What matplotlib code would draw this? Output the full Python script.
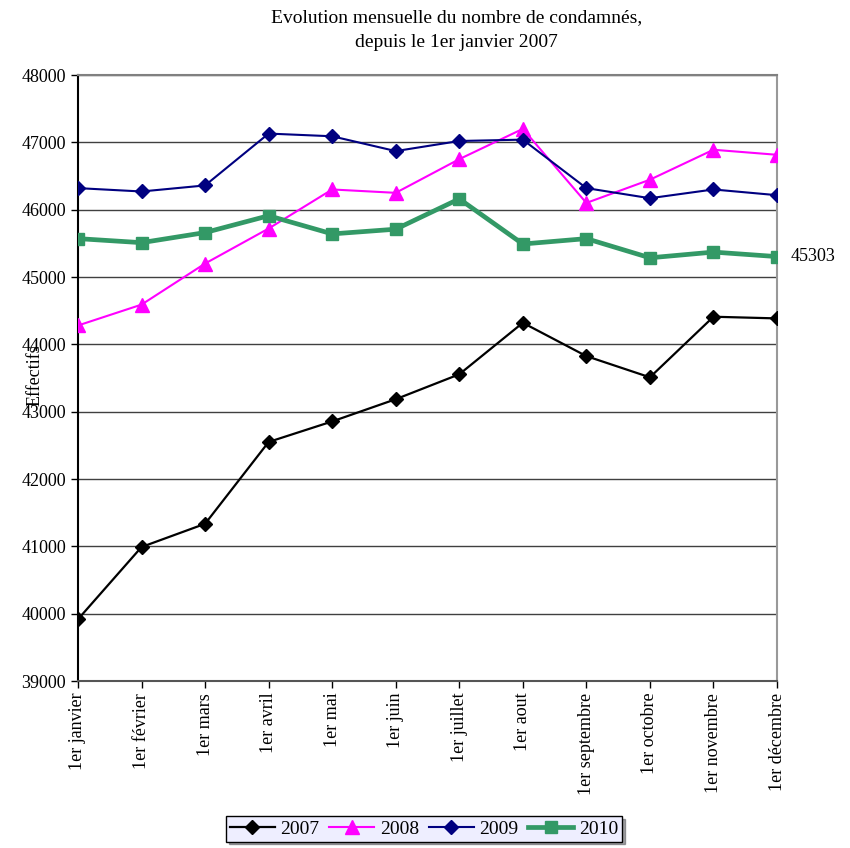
import matplotlib.pyplot as plt

# months (x categories)
months = ["1er janvier", "1er février", "1er mars", "1er avril", "1er mai",
          "1er juin", "1er juillet", "1er aout", "1er septembre",
          "1er octobre", "1er novembre", "1er décembre"]

# values
y2007 = [39917, 40990, 41335, 42550, 42855, 43185, 43555, 44320, 43825,
         43510, 44410, 44385]
y2008 = [44280, 44590, 45200, 45720, 46300, 46250, 46750, 47200, 46100,
         46445, 46890, 46815]
y2009 = [46320, 46270, 46360, 47130, 47090, 46870, 47020, 47040, 46320,
         46170, 46300, 46215]
y2010 = [45570, 45510, 45660, 45910, 45640, 45710, 46160, 45490, 45570,
         45285, 45370, 45303]

yticks = list(range(39000, 48001, 1000))

plt.rcParams["font.family"] = ["Liberation Serif", "DejaVu Serif"]

fig = plt.figure(figsize=(8.5, 8.48), dpi=100)
ax = fig.add_axes([78 / 850, 1 - 681 / 848, 699 / 850, 606 / 848])

x = list(range(len(months)))

# draw the four series
ax.plot(x, y2007, color="black", lw=1.6, marker="D", ms=7.5, label="2007",
        zorder=3)
ax.plot(x, y2008, color="#FF00FF", lw=1.5, marker="^", ms=10, label="2008",
        zorder=3)
ax.plot(x, y2009, color="#000080", lw=1.5, marker="D", ms=7.5, label="2009",
        zorder=3)
ax.plot(x, y2010, color="#339966", lw=3.4, marker="s", ms=9, label="2010",
        zorder=4)

# last value label
ax.annotate(str(y2010[-1]), (x[-1], y2010[-1]), xytext=(10, 0),
            textcoords="offset points", va="center", ha="left", fontsize=13,
            annotation_clip=False)

# axes and grid
ax.set_xlim(0, 11)
ax.set_ylim(39000, 48000)
ax.set_yticks(yticks)
ax.set_xticks(x)
ax.set_xticklabels(months, rotation=90, fontsize=13)
ax.tick_params(axis="y", labelsize=13, direction="out", length=5, width=1)
ax.tick_params(axis="x", direction="out", length=5, width=1)
ax.yaxis.grid(True, color="#404040", lw=1)
ax.set_axisbelow(True)

ax.spines["left"].set_color("black")
ax.spines["left"].set_linewidth(1.5)
ax.spines["bottom"].set_color("#555555")
ax.spines["bottom"].set_linewidth(1.5)
ax.spines["top"].set_color("#808080")
ax.spines["top"].set_linewidth(1.5)
ax.spines["right"].set_color("#999999")
ax.spines["right"].set_linewidth(1.5)

ax.set_ylabel("Effectifs", fontsize=13)
ax.yaxis.set_label_coords(-0.05, 0.505)

# title
fig.text(0.537, 0.965, "Evolution mensuelle du nombre de condamnés,\n"
         "depuis le 1er janvier 2007", ha="center", va="center",
         fontsize=14, linespacing=1.6)

# legend
leg = fig.legend(loc="center", bbox_to_anchor=(424 / 850, 1 - 829 / 848),
                 ncol=4, fontsize=14, frameon=True, fancybox=False,
                 shadow=True, handlelength=2.3, handletextpad=0.3,
                 columnspacing=0.5, borderpad=0.2)
leg.get_frame().set_facecolor("#EEEEFF")
leg.get_frame().set_edgecolor("black")
leg.get_frame().set_linewidth(1)

fig.savefig("out.png", dpi=100)
